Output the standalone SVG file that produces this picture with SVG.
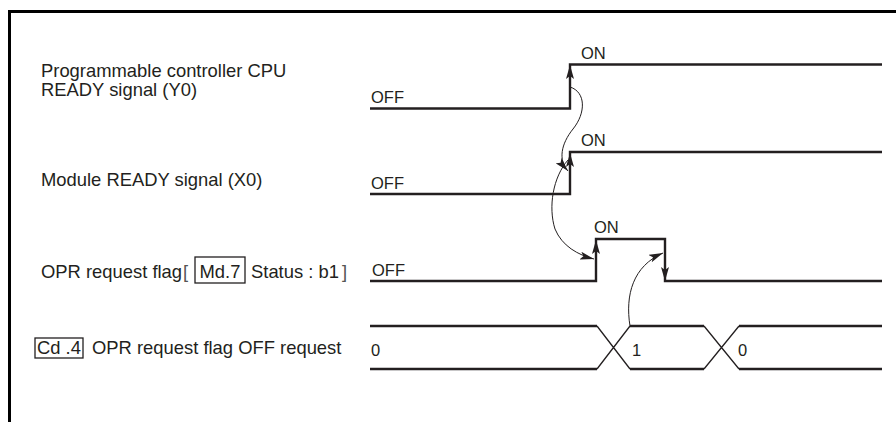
<svg xmlns="http://www.w3.org/2000/svg" width="896" height="422" viewBox="0 0 896 422">
<style>
.lbl{font-family:"Liberation Sans",Arial,sans-serif;font-size:18.4px;fill:#231f20}
.brk{font-family:"Liberation Sans",Arial,sans-serif;font-size:18.4px;fill:#555}
.val{font-family:"Liberation Sans",Arial,sans-serif;font-size:16.5px;fill:#231f20}
.sig{fill:none;stroke:#231f20;stroke-width:2.4}
.x{fill:none;stroke:#231f20;stroke-width:1.3}
.box{fill:none;stroke:#231f20;stroke-width:1.3}
.con{fill:none;stroke:#231f20;stroke-width:1}
.edge{fill:none;stroke:none}
.brd{fill:none;stroke:#000;stroke-width:3}
</style>
<defs>
<marker id="ah" viewBox="0 0 14 8" refX="14" refY="4" markerWidth="14" markerHeight="8" markerUnits="userSpaceOnUse" orient="auto">
<path d="M0,0 L14,4 L0,8 L3,4 z" fill="#231f20"/>
</marker>
</defs>
<rect width="896" height="422" fill="#fff"/>
<path class="brd" d="M9.5,422 V11.5 H896"/>

<g id="y0">
<text class="lbl" x="41" y="76.5">Programmable controller CPU</text>
<text class="lbl" x="41" y="96">READY signal (Y0)</text>
<text class="val" x="371" y="103">OFF</text>
<text class="val" x="581" y="59">ON</text>
<path class="sig" d="M370,108.5 H570 V64.5 H882"/>
<path class="edge" d="M570,100 V65" marker-end="url(#ah)"/>
</g>

<g id="x0">
<text class="lbl" x="41" y="186">Module READY signal (X0)</text>
<text class="val" x="371" y="189">OFF</text>
<text class="val" x="581" y="146">ON</text>
<path class="sig" d="M370,194 H570 V152 H882"/>
<path class="edge" d="M570,185 V153" marker-end="url(#ah)"/>
</g>

<g id="opr">
<text class="lbl" x="41" y="278">OPR request flag</text>
<text class="brk" x="183" y="278">[</text>
<rect class="box" x="195" y="257" width="50" height="26"/>
<text class="lbl" x="199.5" y="278">Md.7</text>
<text class="lbl" x="251" y="278">Status : b1</text>
<text class="brk" x="342" y="278">]</text>
<text class="val" x="372" y="276">OFF</text>
<text class="val" x="594" y="233">ON</text>
<path class="sig" d="M370,281 H596 V239 H665 V281 H882"/>
<path class="edge" d="M596,270 V240" marker-end="url(#ah)"/>
<path class="edge" d="M665,250 V281" marker-end="url(#ah)"/>
</g>

<g id="cd4">
<rect class="box" x="35" y="338" width="48" height="20"/>
<text class="lbl" x="37" y="354">Cd .4</text>
<text class="lbl" x="92" y="354">OPR request flag OFF request</text>
<text class="val" x="371" y="356">0</text>
<text class="val" x="632" y="356">1</text>
<text class="val" x="738" y="356">0</text>
<path class="sig" d="M370,326 H597 M630,326 H704 M739,326 H882 M370,369 H597 M630,369 H704 M739,369 H882"/>
<path class="x" d="M597,326 L630,369 M597,369 L630,326 M704,326 L739,369 M704,369 L739,326"/>
</g>

<g id="connectors">
<path class="con" d="M570,87 C586,92 586,113 573,129 C561,144 558,160 568,171" marker-end="url(#ah)"/>
<path class="con" d="M568,160 C553,177 548,207 555,229 C562,246 578,255 594,259" marker-end="url(#ah)"/>
<path class="con" d="M630,326 C625,295 633,266 663,253" marker-end="url(#ah)"/>
</g>
</svg>
